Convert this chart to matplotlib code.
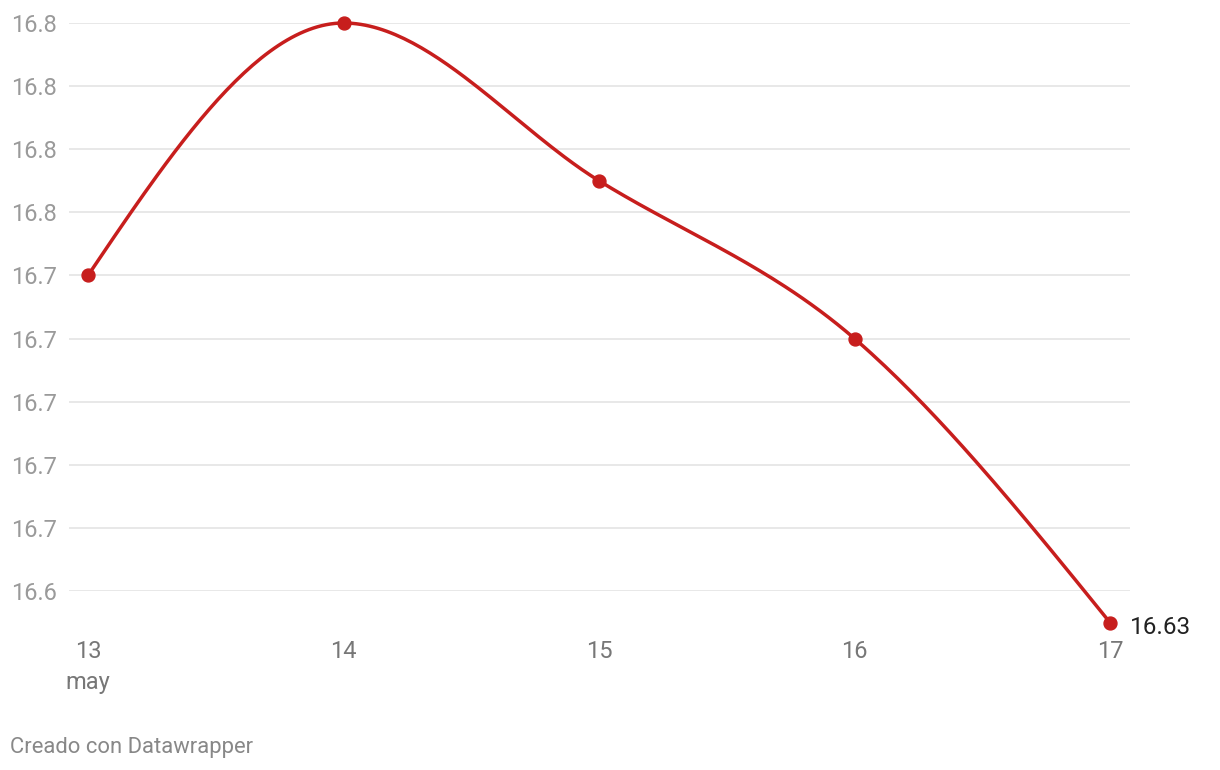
import numpy as np
import matplotlib
matplotlib.use("Agg")
import matplotlib.pyplot as plt
import matplotlib.transforms as mtransforms

plt.rcParams['font.family'] = ['Roboto', 'DejaVu Sans']

# ---- data ----
days = [13, 14, 15, 16, 17]
values = [16.74, 16.82, 16.77, 16.72, 16.63]
x_labels = ["13", "14", "15", "16", "17"]
month_label = "may"
y_ticks = [16.64, 16.66, 16.68, 16.70, 16.72, 16.74, 16.76, 16.78, 16.80, 16.82]
y_labels = ["16.6", "16.7", "16.7", "16.7", "16.7", "16.7", "16.8", "16.8", "16.8", "16.8"]
last_label = "16.63"
credit = "Creado con Datawrapper"

RED = "#c71e1d"


def monotone_curve(x, y, n=60):
    """Monotone cubic (Steffen / d3.curveMonotoneX) rendering of a polyline."""
    x = np.asarray(x, float)
    y = np.asarray(y, float)
    h = np.diff(x)
    s = np.diff(y) / h
    t = np.zeros_like(y)
    for i in range(1, len(x) - 1):
        p = (s[i - 1] * h[i] + s[i] * h[i - 1]) / (h[i - 1] + h[i])
        t[i] = (np.sign(s[i - 1]) + np.sign(s[i])) * min(abs(s[i - 1]), abs(s[i]), 0.5 * abs(p))
    t[0] = (3 * s[0] - t[1]) / 2
    t[-1] = (3 * s[-1] - t[-2]) / 2
    xs, ys = [], []
    for i in range(len(x) - 1):
        u = np.linspace(0, 1, n)
        h00 = 2 * u**3 - 3 * u**2 + 1
        h10 = u**3 - 2 * u**2 + u
        h01 = -2 * u**3 + 3 * u**2
        h11 = u**3 - u**2
        xs.append(x[i] + u * h[i])
        ys.append(h00 * y[i] + h10 * h[i] * t[i] + h01 * y[i + 1] + h11 * h[i] * t[i + 1])
    return np.concatenate(xs), np.concatenate(ys)


W, H = 1220, 770
fig = plt.figure(figsize=(W / 100, H / 100), dpi=100)
fig.patch.set_facecolor("white")

left_px, right_px = 69, 1130
top_px, bot_px = 23, 591
ax = fig.add_axes([left_px / W, 1 - bot_px / H, (right_px - left_px) / W, (bot_px - top_px) / H])

# x scale: 13 -> 88px, 17 -> 1110px
ppu = (1110 - 88) / 4
ax.set_xlim(13 - (88 - left_px) / ppu, 17 + (right_px - 1110) / ppu)
ax.set_ylim(y_ticks[0], y_ticks[-1])

for sp in ax.spines.values():
    sp.set_visible(False)

FS = 17
ax.set_yticks(y_ticks)
ax.set_yticklabels(y_labels)
ax.tick_params(axis='y', length=0, pad=9.0, labelsize=FS, labelcolor="#9a9a9a")
ax.yaxis.grid(True, color="#e2e2e2", linewidth=1.1)
ax.set_axisbelow(True)

ax.set_xticks(days)
ax.set_xticklabels(x_labels)
ax.tick_params(axis='x', length=0, pad=35.5, labelsize=FS, labelcolor="#777777")

# month label under first tick
trans = mtransforms.blended_transform_factory(ax.transData, fig.transFigure)
ax.text(days[0], 1 - 689 / H, month_label, transform=trans, ha="center", va="baseline",
        fontsize=FS, color="#777777")

cx, cy = monotone_curve(days, values)
ax.plot(cx, cy, color=RED, linewidth=2.5, clip_on=False, solid_capstyle="round", zorder=3)
ax.plot(days, values, "o", color=RED, markersize=9.3, clip_on=False, zorder=4)

ax.annotate(last_label, (days[-1], values[-1]), xytext=(14, -3.5), textcoords="offset points",
            ha="left", va="center", fontsize=17.5, color="#222222", annotation_clip=False)

fig.text(10 / W, 1 - 748 / H, credit, ha="left", va="center", fontsize=15.8, color="#888888")

fig.savefig("out.png", dpi=100, facecolor="white")
